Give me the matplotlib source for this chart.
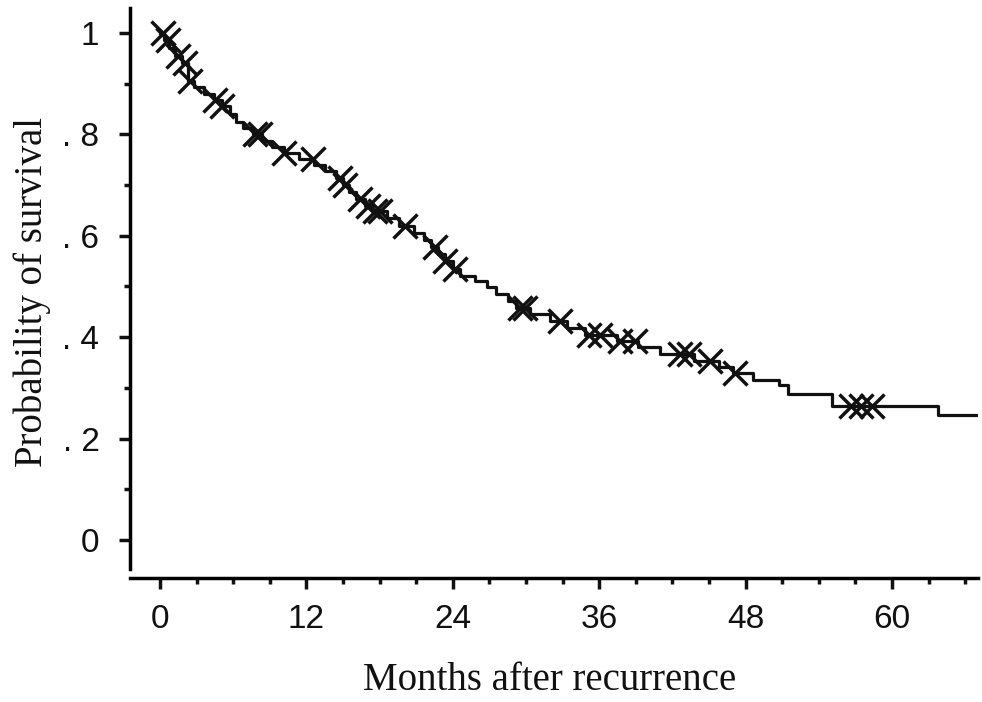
import numpy as np
import matplotlib
matplotlib.use('Agg')
import matplotlib.pyplot as plt
from matplotlib import font_manager
from matplotlib.ticker import MultipleLocator, FixedLocator, FixedFormatter

# Kaplan-Meier curve: months where survival drops and the new survival level
event_months = [0.3, 0.7, 1.2, 1.8, 2.3, 2.8, 3.6, 4.4, 5.1, 5.7, 6.2, 6.8,
                7.6, 8.4, 9.2, 10.2, 11.4, 12.6, 13.5, 14.4, 15.0, 15.5,
                16.1, 16.8, 17.4, 18.6, 19.6, 20.8, 21.6, 22.2, 22.8, 23.4,
                24.0, 24.6, 25.8, 26.8, 27.5, 28.5, 29.2, 30.3, 32.0, 33.4,
                34.8, 37.5, 39.2, 41.0, 43.8, 45.8, 47.0, 48.6, 50.7, 51.5,
                55.1, 63.8]
survival = [0.985, 0.97, 0.955, 0.94, 0.905, 0.893, 0.88, 0.868, 0.855, 0.84,
            0.825, 0.812, 0.80, 0.787, 0.775, 0.763, 0.752, 0.74, 0.727,
            0.714, 0.70, 0.686, 0.672, 0.658, 0.648, 0.634, 0.62, 0.605,
            0.592, 0.578, 0.564, 0.55, 0.535, 0.52, 0.51, 0.498, 0.485,
            0.472, 0.458, 0.445, 0.432, 0.418, 0.405, 0.393, 0.38, 0.366,
            0.352, 0.341, 0.329, 0.316, 0.306, 0.288, 0.264, 0.247]
follow_up_end = 67.0

# censored observations (months)
censor_months = [0.25, 0.65, 1.5, 2.05, 2.45, 4.5, 5.1, 7.8, 8.2, 10.2, 12.5,
                 14.75, 15.2, 16.4, 17.05, 17.6, 18.0, 20.1, 22.5, 23.4, 24.2,
                 29.5, 29.9, 32.8, 35.2, 36.1, 37.7, 38.9, 42.6, 43.4, 45.1,
                 47.1, 56.6, 57.5, 58.4]

x_ticks = [0, 12, 24, 36, 48, 60]
y_ticks = [0, 0.2, 0.4, 0.6, 0.8, 1.0]
y_tick_labels = ['0', '. 2', '. 4', '. 6', '. 8', '1']

names = {f.name for f in font_manager.fontManager.ttflist}
tick_font = 'Liberation Sans Narrow' if 'Liberation Sans Narrow' in names else 'Liberation Sans'

fig = plt.figure(figsize=(9.82, 7.02), dpi=100)
ax = fig.add_axes([130 / 982, 1 - 578 / 702, 848 / 982, 570 / 702])

t = [0] + event_months + [follow_up_end]
s = [1.0] + survival + [survival[-1]]
ax.step(t, s, where='post', color='#111111', lw=2.3)

levels = np.array([1.0] + survival)
idx = np.searchsorted(event_months, censor_months, side='right')
ax.plot(censor_months, levels[idx], linestyle='none', marker='x',
        markersize=17, markeredgewidth=2.5, color='#111111')

ax.set_xlim(-2.46, 67.05)
ax.set_ylim(-0.075, 1.049)

for side in ['top', 'right']:
    ax.spines[side].set_visible(False)
ax.spines['left'].set_linewidth(2.5)
ax.spines['bottom'].set_linewidth(2.5)
ax.spines['left'].set_bounds(-0.058, 1.049)

ax.xaxis.set_major_locator(FixedLocator(x_ticks))
ax.xaxis.set_minor_locator(MultipleLocator(3))
ax.yaxis.set_major_locator(FixedLocator(y_ticks))
ax.yaxis.set_major_formatter(FixedFormatter(y_tick_labels))
ax.yaxis.set_minor_locator(MultipleLocator(0.1))

ax.tick_params(which='major', length=8, width=2.5, color='#111111')
ax.tick_params(which='minor', length=4, width=2.5, color='#111111')
ax.tick_params(axis='x', which='major', pad=11)
ax.tick_params(axis='y', which='major', pad=14)
for lab in ax.get_xticklabels() + ax.get_yticklabels():
    lab.set_fontfamily(tick_font)
    lab.set_fontsize(24)
    lab.set_color('#111111')

fig.text(550 / 982, 1 - 680 / 702, 'Months after recurrence', ha='center',
         va='center', fontsize=28, family='Liberation Serif', color='#111111')
fig.text(32 / 982, 1 - 292 / 702, 'Probability of survival', ha='center',
         va='center', rotation=90, fontsize=28, family='Liberation Serif',
         color='#111111')

fig.savefig('out.png', dpi=100)
